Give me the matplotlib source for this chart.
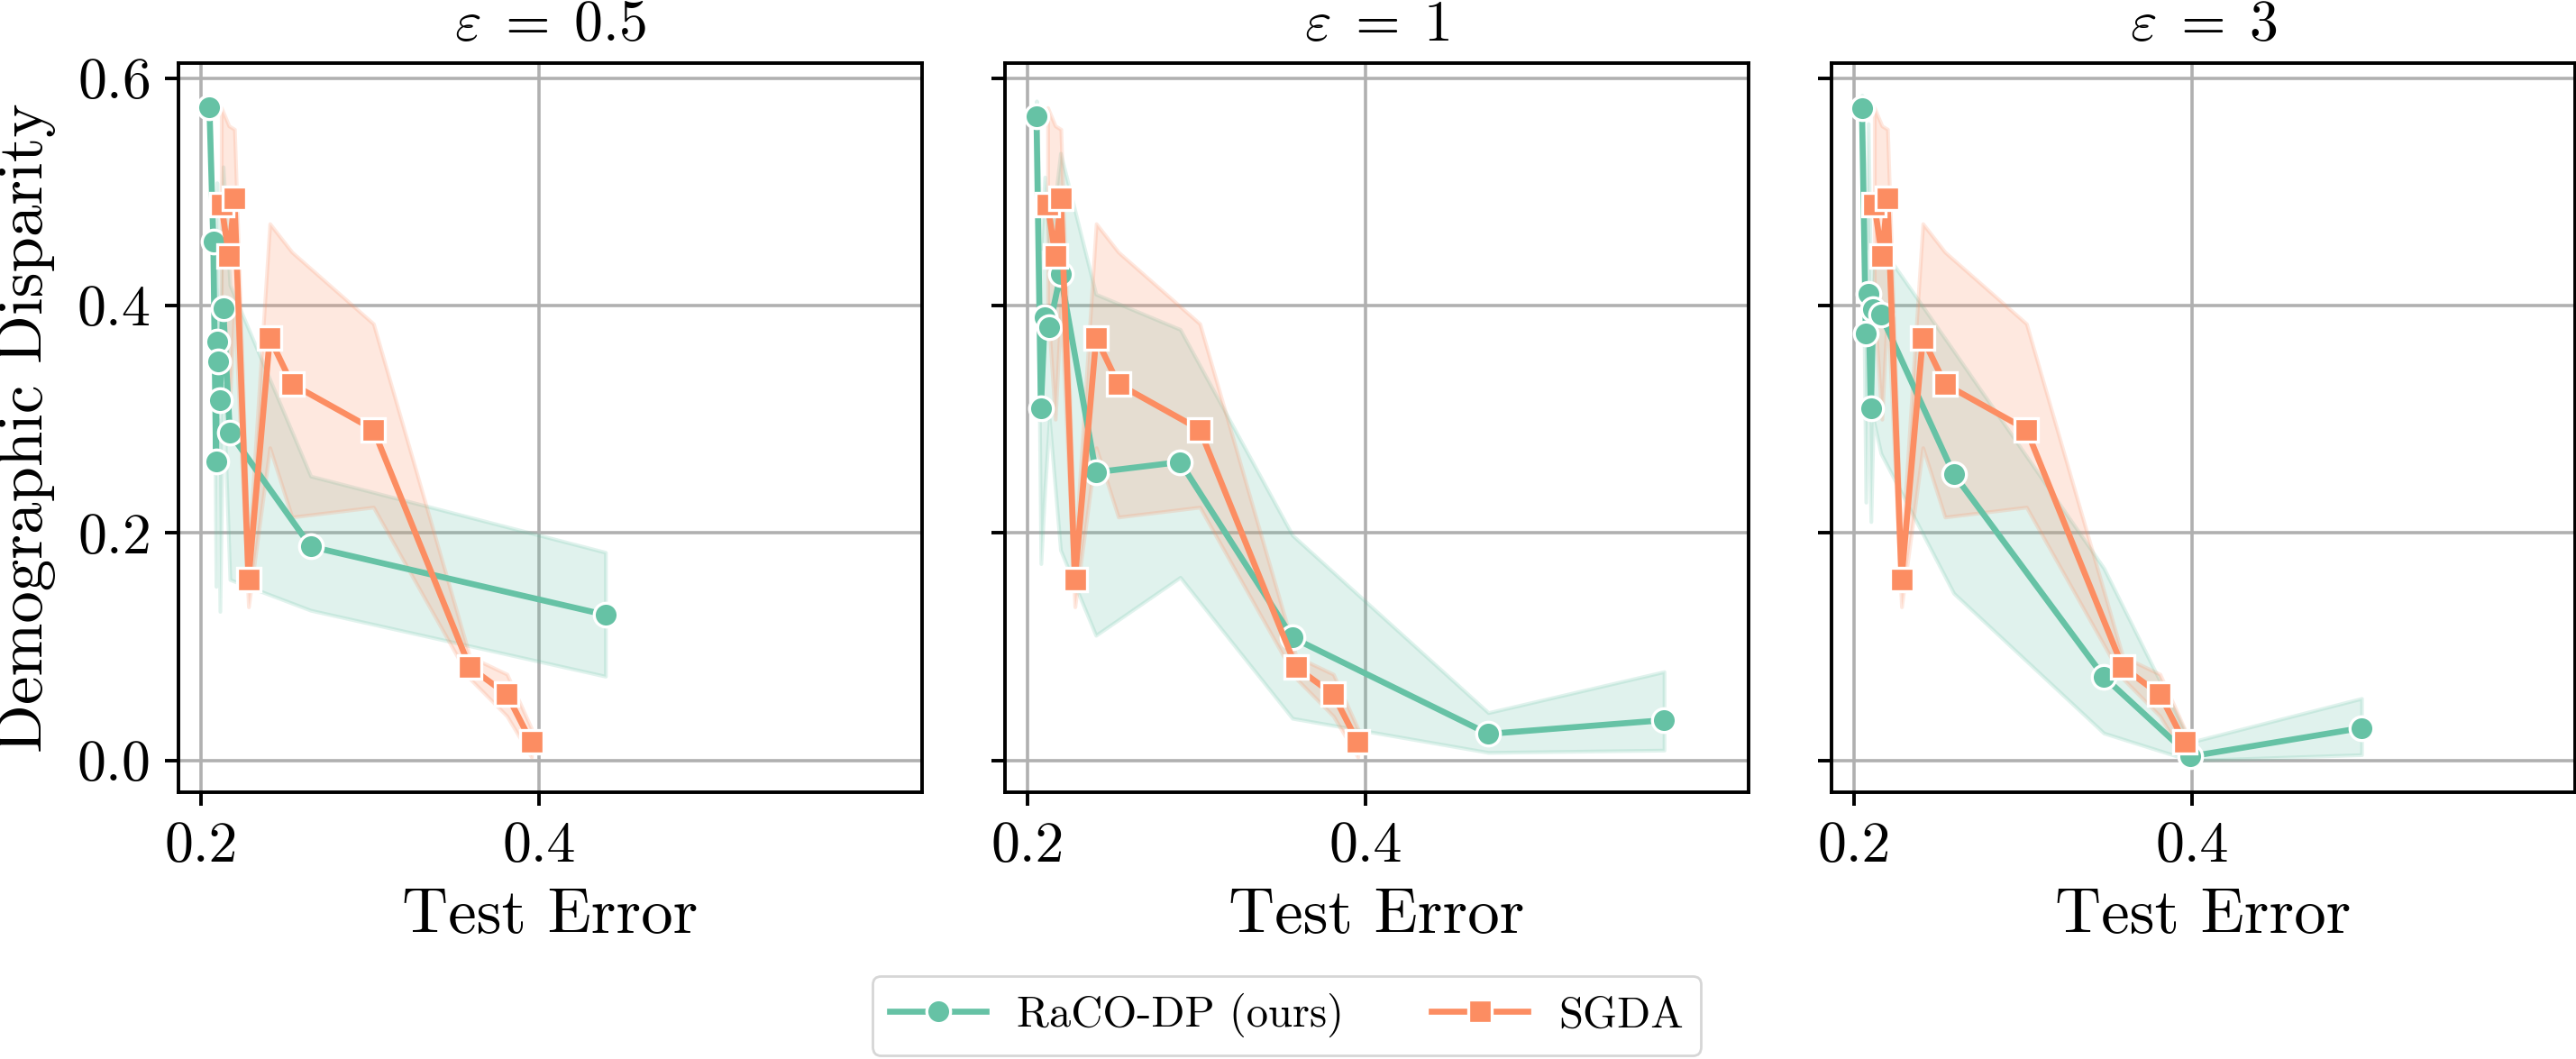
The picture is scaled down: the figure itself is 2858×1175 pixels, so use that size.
import matplotlib
matplotlib.use("Agg")
import matplotlib.pyplot as plt
from matplotlib.lines import Line2D

# computer-modern look without latex
plt.rcParams['font.family'] = 'serif'
plt.rcParams['font.serif'] = ['cmr10']
plt.rcParams['mathtext.fontset'] = 'cm'
plt.rcParams['axes.formatter.use_mathtext'] = True
plt.rcParams['axes.unicode_minus'] = False

GREEN = '#66c2a5'
ORANGE = '#fc8d62'

epsilons = ['0.5', '1', '3']

# SGDA does not depend on epsilon, same curve in every panel
sgda_x = [0.212, 0.2165, 0.2198, 0.2281, 0.2407, 0.2538, 0.302, 0.359, 0.381, 0.3955]
sgda_y = [0.489, 0.444, 0.494, 0.159, 0.3715, 0.331, 0.291, 0.082, 0.058, 0.016]
sgda_lo = [0.40, 0.30, 0.40, 0.135, 0.275, 0.214, 0.2227, 0.072, 0.039, 0.003]
sgda_hi = [0.574, 0.558, 0.555, 0.18, 0.472, 0.447, 0.384, 0.0914, 0.0758, 0.028]

# RaCO-DP (ours), one set per epsilon
raco_x_05 = [0.2050, 0.2073, 0.2089, 0.2094, 0.2101, 0.2112, 0.2131, 0.2171, 0.2649, 0.4393]
raco_y_05 = [0.574, 0.456, 0.263, 0.368, 0.351, 0.317, 0.398, 0.288, 0.188, 0.128]
raco_lo_05 = [0.565, 0.44, 0.153, 0.30, 0.30, 0.131, 0.33, 0.159, 0.132, 0.074]
raco_hi_05 = [0.582, 0.47, 0.38, 0.508, 0.42, 0.38, 0.522, 0.418, 0.25, 0.183]

raco_x_1 = [0.2054, 0.2080, 0.2103, 0.2130, 0.2196, 0.2405, 0.2904, 0.3568, 0.4727, 0.5767]
raco_y_1 = [0.5665, 0.31, 0.3895, 0.3807, 0.4275, 0.2534, 0.2624, 0.108, 0.0233, 0.0354]
raco_lo_1 = [0.555, 0.173, 0.238, 0.30, 0.185, 0.11, 0.161, 0.037, 0.007, 0.009]
raco_hi_1 = [0.58, 0.45, 0.513, 0.45, 0.534, 0.41, 0.379, 0.198, 0.042, 0.078]

raco_x_3 = [0.2047, 0.2070, 0.2084, 0.2100, 0.2114, 0.2159, 0.2590, 0.3478, 0.3990, 0.5003]
raco_y_3 = [0.5736, 0.3754, 0.4106, 0.31, 0.3966, 0.3918, 0.2518, 0.0735, 0.0035, 0.0285]
raco_lo_3 = [0.56, 0.227, 0.35, 0.21, 0.30, 0.27, 0.147, 0.024, 0.0, 0.005]
raco_hi_3 = [0.585, 0.45, 0.56, 0.40, 0.45, 0.452, 0.36, 0.169, 0.016, 0.0545]

raco = [(raco_x_05, raco_y_05, raco_lo_05, raco_hi_05),
        (raco_x_1, raco_y_1, raco_lo_1, raco_hi_1),
        (raco_x_3, raco_y_3, raco_lo_3, raco_hi_3)]

LW = 2.4
MS = 9.5
MEW = 1.2

fig = plt.figure(figsize=(14.29, 5.875), dpi=200)
lefts = [0.0693, 0.3901, 0.7110]
axes = []
for i, left in enumerate(lefts):
    ax = fig.add_axes([left, 0.2517, 0.2887, 0.6887])
    axes.append(ax)

def draw_series(ax, x, y, lo, hi, color, marker):
    ax.plot(x, y, color=color, lw=LW, marker=marker, ms=MS,
            markeredgecolor='white', markeredgewidth=MEW, zorder=3)
    ax.fill_between(x, lo, hi, color=color, alpha=0.2, lw=1.5, zorder=1)

for i, ax in enumerate(axes):
    x, y, lo, hi = raco[i]
    draw_series(ax, x, y, lo, hi, GREEN, 'o')
    draw_series(ax, sgda_x, sgda_y, sgda_lo, sgda_hi, ORANGE, 's')

    ax.set_xlim(0.1867, 0.6267)
    ax.set_ylim(-0.0282, 0.6132)
    ax.set_xticks([0.2, 0.4])
    ax.set_yticks([0.0, 0.2, 0.4, 0.6])
    ax.set_xticklabels(['0.2', '0.4'])
    ax.grid(True, color='#b0b0b0', lw=1.3)
    ax.set_axisbelow(True)
    for s in ax.spines.values():
        s.set_linewidth(1.4)
        s.set_color('black')
    ax.tick_params(labelsize=23, length=5.4, width=1.4, pad=6)
    ax.set_title(r'$\varepsilon \;=\; %s$' % epsilons[i], fontsize=23, pad=9)
    ax.set_xlabel('Test Error', fontsize=25.5, labelpad=6)
    if i == 0:
        ax.set_ylabel('Demographic Disparity', fontsize=25.5, labelpad=8)
    else:
        ax.set_yticklabels([])

handles = [
    Line2D([], [], color=GREEN, lw=LW, marker='o', ms=MS,
           markeredgecolor='white', markeredgewidth=MEW),
    Line2D([], [], color=ORANGE, lw=LW, marker='s', ms=MS,
           markeredgecolor='white', markeredgewidth=MEW),
]
fig.legend(handles, ['RaCO-DP (ours)', 'SGDA'], loc='center',
           bbox_to_anchor=(0.4995, 0.041), ncol=2, fontsize=17.5,
           frameon=True, fancybox=True, edgecolor='0.8',
           handlelength=2.2, handletextpad=0.7, columnspacing=2.0)

fig.savefig('out.png', dpi=200)
